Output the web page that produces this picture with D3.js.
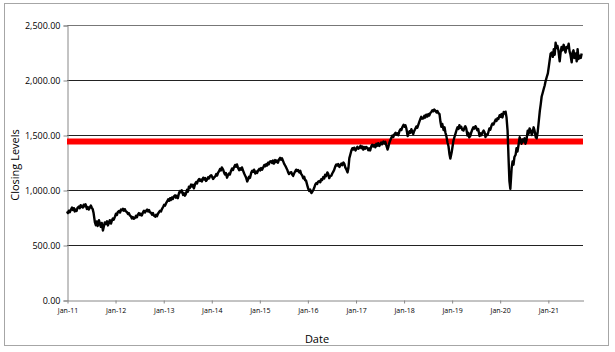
<!DOCTYPE html>
<html>
<head>
<meta charset="utf-8">
<script src="https://cdn.jsdelivr.net/npm/d3@7"></script>
<style>
  body { margin: 0; background: #fff; }
  text { font-family: "Open Sans", "DejaVu Sans", sans-serif; fill: #000; }
</style>
</head>
<body>
<div class="chart"></div>
<script>
// weekly-ish closes (1st, 8th, 15th, 22nd of each month), Jan 2011 .. Sep 2021
const closes2011 = [805, 790, 812, 798, 825, 840, 818, 835, 805, 822, 810, 838, 850, 835, 862, 848, 840, 866, 852, 870, 828, 845, 822, 838,
  858, 840, 826, 790, 705, 680, 715, 672, 725, 690, 665, 700, 632, 668, 705, 690, 715, 678, 700, 725, 695, 722, 740, 730]
const closes2012 = [760, 785, 772, 798, 810, 795, 822, 815, 830, 812, 826, 808, 798, 782, 790, 770, 760, 742, 755, 738, 748, 765, 752, 776,
  790, 772, 785, 768, 798, 812, 795, 808, 822, 805, 818, 798, 792, 776, 790, 768, 758, 775, 762, 784, 800, 812, 805, 826]
const closes2013 = [848, 866, 858, 878, 898, 915, 902, 925, 910, 932, 918, 940, 952, 930, 948, 926, 972, 992, 980, 998, 955, 970, 948, 965,
  1002, 985, 1030, 1018, 1050, 1032, 1048, 1015, 1058, 1072, 1060, 1085, 1100, 1082, 1095, 1078, 1112, 1095, 1108, 1082, 1098, 1115, 1105, 1125]
const closes2014 = [1135, 1118, 1100, 1112, 1125, 1145, 1132, 1158, 1170, 1190, 1178, 1205, 1185, 1160, 1142, 1155, 1112, 1135, 1150, 1140, 1178, 1195, 1182, 1205,
  1228, 1212, 1232, 1205, 1180, 1198, 1185, 1205, 1172, 1150, 1132, 1115, 1078, 1098, 1120, 1110, 1158, 1175, 1165, 1185, 1150, 1168, 1155, 1175]
const closes2015 = [1192, 1178, 1200, 1185, 1210, 1228, 1215, 1235, 1222, 1248, 1235, 1258, 1262, 1245, 1268, 1240, 1272, 1255, 1268, 1248, 1280, 1292, 1275, 1288,
  1262, 1240, 1225, 1210, 1185, 1160, 1145, 1158, 1162, 1140, 1128, 1150, 1170, 1185, 1172, 1182, 1160, 1175, 1145, 1135, 1105, 1120, 1090, 1085]
const closes2016 = [1040, 1010, 990, 1005, 972, 985, 1000, 1020, 1048, 1062, 1055, 1075, 1082, 1070, 1098, 1090, 1118, 1105, 1138, 1125, 1160, 1145, 1108, 1125,
  1130, 1150, 1165, 1180, 1218, 1232, 1222, 1236, 1210, 1228, 1240, 1225, 1250, 1238, 1205, 1190, 1160, 1200, 1290, 1320, 1362, 1380, 1368, 1385]
const closes2017 = [1360, 1378, 1392, 1375, 1385, 1402, 1380, 1395, 1368, 1390, 1375, 1392, 1382, 1362, 1378, 1360, 1398, 1412, 1395, 1408, 1388, 1420, 1402, 1425,
  1400, 1418, 1432, 1415, 1440, 1422, 1438, 1410, 1368, 1395, 1430, 1452, 1478, 1495, 1482, 1505, 1520, 1502, 1515, 1498, 1538, 1552, 1545, 1570]
const closes2018 = [1592, 1575, 1588, 1560, 1490, 1515, 1535, 1520, 1552, 1530, 1508, 1535, 1560, 1578, 1565, 1590, 1622, 1645, 1665, 1648, 1652, 1675, 1660, 1685,
  1668, 1690, 1678, 1698, 1712, 1725, 1715, 1732, 1720, 1705, 1718, 1700, 1690, 1620, 1575, 1600, 1545, 1570, 1520, 1490, 1430, 1400, 1330, 1285]
const closes2019 = [1340, 1395, 1450, 1480, 1520, 1548, 1570, 1555, 1590, 1565, 1575, 1548, 1540, 1565, 1580, 1560, 1495, 1520, 1478, 1490, 1530, 1552, 1570, 1558,
  1580, 1565, 1542, 1555, 1490, 1515, 1498, 1520, 1540, 1525, 1482, 1505, 1500, 1530, 1560, 1548, 1590, 1605, 1595, 1615, 1640, 1628, 1652, 1645]
const closes2020 = [1680, 1665, 1690, 1660, 1710, 1695, 1712, 1660, 1540, 1300, 1080, 1010, 1200, 1260, 1230, 1300, 1320, 1380, 1350, 1400, 1480, 1450, 1420, 1460,
  1440, 1470, 1420, 1450, 1540, 1510, 1560, 1545, 1500, 1530, 1570, 1540, 1480, 1470, 1520, 1600, 1720, 1780, 1850, 1880, 1920, 1950, 1990, 2020]
const closes2021 = [2060, 2120, 2180, 2240, 2250, 2210, 2280, 2230, 2340, 2290, 2310, 2270, 2170, 2250, 2300, 2270, 2320, 2280, 2250, 2300, 2290, 2330, 2260, 2230,
  2160, 2250, 2270, 2200, 2240, 2170, 2280, 2190, 2220, 2200, 2240]

const closes = [].concat(closes2011, closes2012, closes2013, closes2014, closes2015,
  closes2016, closes2017, closes2018, closes2019, closes2020, closes2021)

const yTicks = [0, 500, 1000, 1500, 2000, 2500]
const xTickYears = [2011, 2012, 2013, 2014, 2015, 2016, 2017, 2018, 2019, 2020, 2021]
const weekDays = [1, 8, 15, 22]
const benchmark = 1440

const data = closes.map((v, i) => ({
  date: new Date(2011 + Math.floor(i / 48), Math.floor((i % 48) / 4), weekDays[i % 4]),
  value: v
}))

const W = 615, H = 352
const margin = { left: 67, right: 32, top: 25, bottom: 52 }

const svg = d3.select('.chart')
  .append('svg')
    .attr('width', W)
    .attr('height', H)

// outer frame
svg.append('rect')
  .attr('x', 4.5).attr('y', 3.5)
  .attr('width', 604).attr('height', 342)
  .attr('fill', '#fff')
  .attr('stroke', '#a6a6a6')

const xScale = d3.scaleTime()
  .domain([new Date(2011, 0, 1), new Date(2021, 8, 25)])
  .range([margin.left, W - margin.right])

const yScale = d3.scaleLinear()
  .domain([0, 2500])
  .range([H - margin.bottom, margin.top])

// gridlines
svg.append('g')
  .selectAll('line')
  .data(yTicks.slice(1))
  .enter()
  .append('line')
    .attr('x1', margin.left)
    .attr('x2', W - margin.right)
    .attr('y1', d => Math.round(yScale(d)) + 0.5)
    .attr('y2', d => Math.round(yScale(d)) + 0.5)
    .attr('stroke', d => d === 2500 ? '#777' : '#222')

// axes
const yAxis = svg.append('g')
  .attr('transform', `translate(${margin.left + 0.5}, 0.5)`)
  .call(d3.axisLeft(yScale)
    .tickValues(yTicks)
    .tickSize(4)
    .tickFormat(d3.format(',.2f')))
yAxis.select('.domain').attr('stroke', '#888')
yAxis.selectAll('.tick line').attr('stroke', '#888')
yAxis.selectAll('.tick text')
  .attr('x', -7)
  .style('font-size', '9px')
  .style('font-family', '"Open Sans", sans-serif')

const xAxis = svg.append('g')
  .attr('transform', `translate(0.5, ${H - margin.bottom + 0.5})`)
  .call(d3.axisBottom(xScale)
    .tickValues(xTickYears.map(y => new Date(y, 0, 1)))
    .tickSize(3)
    .tickSizeOuter(0)
    .tickFormat(d3.timeFormat('%b-%y')))
xAxis.select('.domain').attr('stroke', '#888')
xAxis.selectAll('.tick line').attr('stroke', '#888')
xAxis.selectAll('.tick text')
  .attr('y', 8)
  .style('font-size', '7px')
  .style('font-family', '"Open Sans", sans-serif')

// benchmark line
svg.append('line')
  .attr('x1', margin.left)
  .attr('x2', W - margin.right)
  .attr('y1', yScale(benchmark))
  .attr('y2', yScale(benchmark))
  .attr('stroke', '#ff0000')
  .attr('stroke-width', 6)

// closing series
svg.append('path')
  .datum(data)
  .attr('fill', 'none')
  .attr('stroke', '#000')
  .attr('stroke-width', 2.4)
  .attr('stroke-linejoin', 'round')
  .attr('d', d3.line()
    .x(d => xScale(d.date))
    .y(d => yScale(d.value)))

// axis titles
svg.append('text')
  .attr('transform', 'translate(19, 165) rotate(-90)')
  .attr('text-anchor', 'middle')
  .style('font-size', '11px')
  .text('Closing Levels')

svg.append('text')
  .attr('x', 317)
  .attr('y', 343)
  .attr('text-anchor', 'middle')
  .style('font-size', '11px')
  .text('Date')
</script>
</body>
</html>
